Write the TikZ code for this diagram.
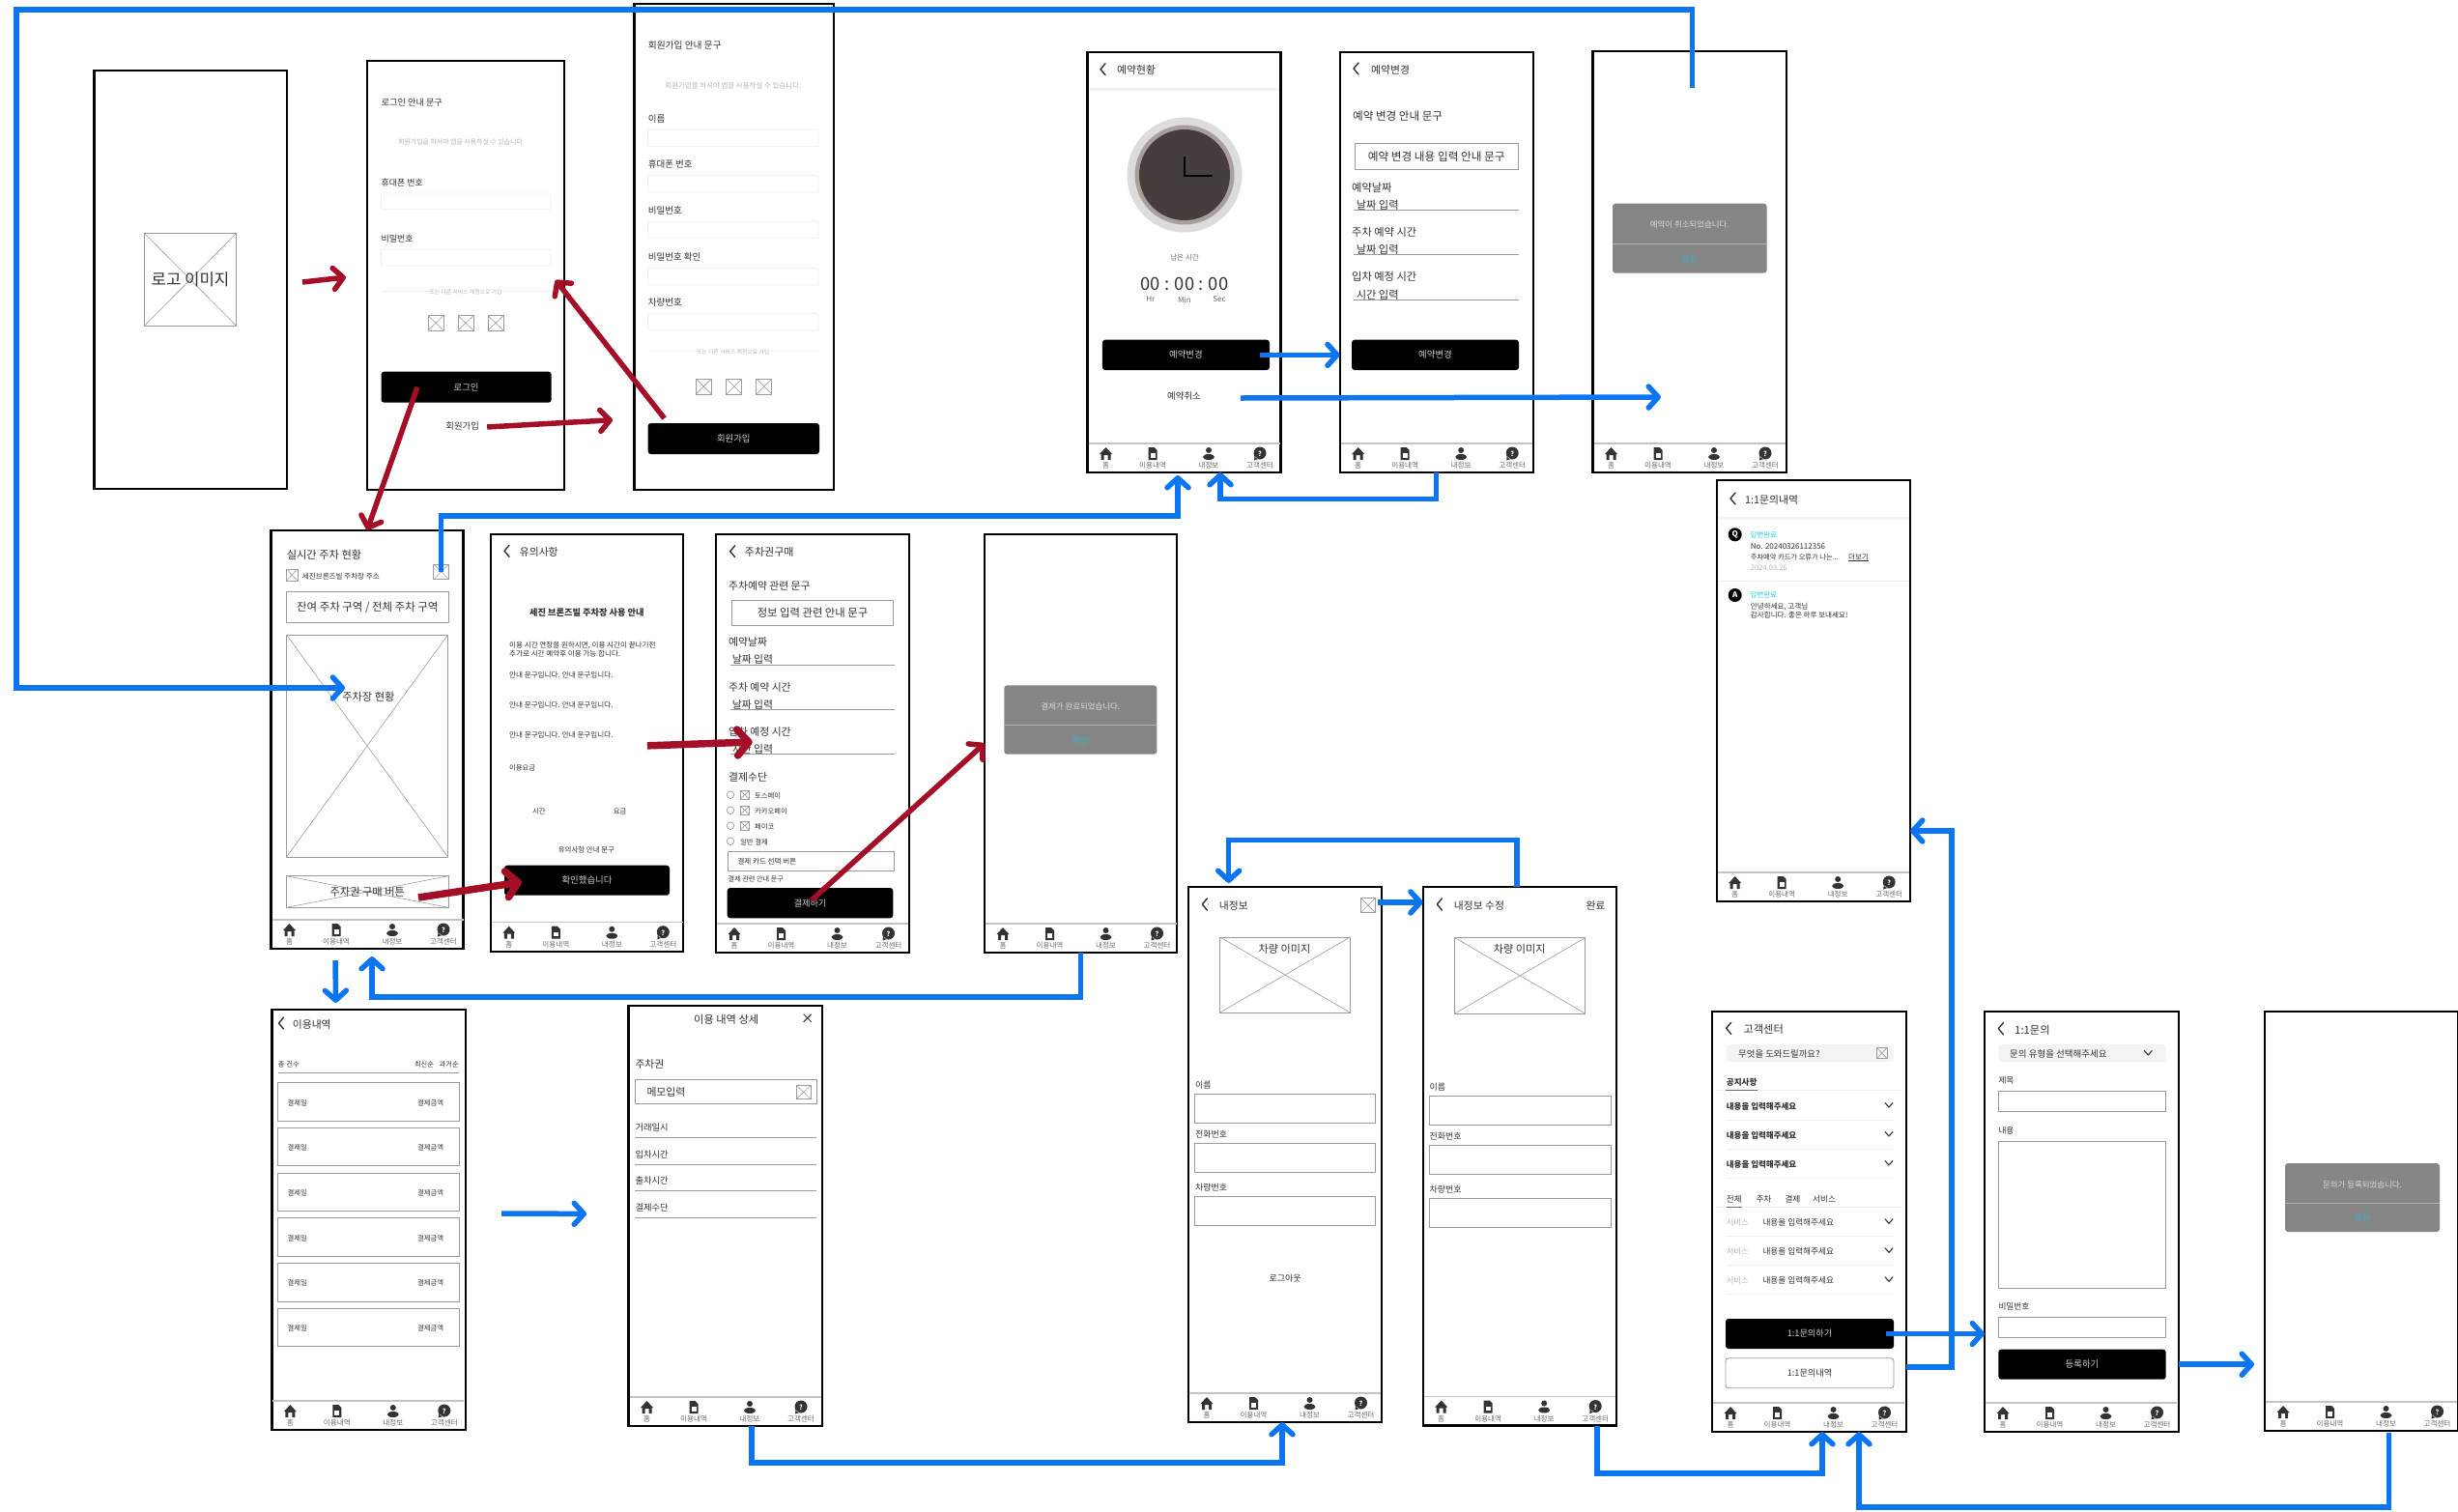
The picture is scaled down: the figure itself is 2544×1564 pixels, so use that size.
\documentclass[tikz,border=0pt]{standalone}
\usepackage{fontspec}
\setmainfont{Noto Sans CJK KR}
\usetikzlibrary{arrows.meta}
\definecolor{arrBlue}{HTML}{0B75F2}
\definecolor{arrRed}{HTML}{A50E27}
\definecolor{inkDark}{HTML}{333333}
\definecolor{inkGrey}{HTML}{6E6E6E}
\definecolor{inkPale}{HTML}{B5B5B5}
\definecolor{phGrey}{HTML}{9C9C9C}
\definecolor{palePill}{HTML}{F4F4F4}
\definecolor{paleLine}{HTML}{EFEFEF}
\definecolor{okTeal}{HTML}{3BB0C9}
\definecolor{clockFace}{HTML}{463D3D}
\definecolor{clockRim}{HTML}{A99F9F}
\definecolor{clockOut}{HTML}{DCDCDC}
\newcounter{labno}
\newcommand{\lab}[4][]{\stepcounter{labno}\node[lab,#1] (lab\thelabno) at ({#2},{#3}) {#4};}
\newcommand{\rbox}[7][]{\node[#1,inner sep=0pt,outer sep=0pt,minimum width={((#5)-(#3))*1pt},minimum height={((#6)-(#4))*1pt}] (#2) at ({(#3+#5)/2},{(#4+#6)/2}) {#7};}
\newcommand{\back}[2]{\draw[thin line,line width=1.4pt,draw=inkDark] (#1+5,#2-6) -- (#1,#2) -- (#1+5,#2+6);}
\newcommand{\chev}[2]{\draw[thin line,line width=1.1pt,draw=inkDark] (#1-4,#2-2.5) -- (#1,#2+2) -- (#1+4,#2-2.5);}
\newcommand{\tabbar}[2]{
  \begin{scope}[shift={(#1,#2)}]
    \draw[draw=phGrey!60,line width=1.2pt] (1,-30) -- (199,-30);
    \fill[inkDark] (12.5,-19) -- (19,-26) -- (25.5,-19) -- (24,-19) -- (24,-13) -- (21,-13) -- (21,-18) -- (17,-18) -- (17,-13) -- (14,-13) -- (14,-19) -- cycle;
    \fill[inkDark] (63,-26) -- (69,-26) -- (72,-23) -- (72,-13) -- (63,-13) -- cycle;
    \fill[white] (65,-20) rectangle (70,-15.5);
    \fill[inkDark] (125.5,-23) circle (3) (125.5,-16) ellipse (6 and 3);
    \fill[inkDark] (178.5,-20) circle (6.5) (173,-17) -- (172.5,-12.5) -- (177,-14) -- cycle;
    \lab[anchor=center,text=white,font=\fontsize{7}{7}\selectfont\bfseries]{178.5}{-20}{?}
    \foreach \xx/\txt in {19/홈,67.5/이용내역,125.5/내정보,178.5/고객센터}{
      \lab[fs=7,anchor=center,text=inkGrey]{\xx}{-8}{\txt}
    }
  \end{scope}}
\newcommand{\popup}[7]{
  \rbox[fill=gray!95,rounded corners=3pt]{#1}{#2}{#3}{#4}{#5}{}
  \draw[draw=gray!60,line width=1pt] (#2,#6) -- (#4,#6);
  \lab[fs=7.8,anchor=center,text=white!85!black]{(#2+#4)/2}{(#3+#6)/2}{#7}
  \lab[fs=8.7,anchor=center,text=okTeal]{(#2+#4)/2}{(#6+#5)/2}{확인}}
\begin{document}
\begin{tikzpicture}[
  x=1pt, y=-1pt,
  fs/.code={\pgfmathsetmacro\fsz{#1*1.08}\tikzset{font=\fontsize{\fsz}{\fsz}\selectfont}},
  lab/.style={anchor=west, inner sep=0pt, text=inkDark, fs=8.3, yshift=-1pt},
  hint/.style={anchor=center, text=inkPale, fs=6.4},
  small/.style={fs=7, text=inkGrey},
  screen/.style={draw=black, fill=white, line width=2.4pt},
  btn/.style={fill=black, rounded corners=3pt, text=white!80!black, fs=8.7},
  soft/.style={draw=paleLine, line width=.8pt, rounded corners=2pt},
  field/.style={draw=phGrey, line width=.9pt, text=inkDark},
  pill/.style={fill=palePill, rounded corners=3pt},
  xph/.style={draw=phGrey, line width=.8pt, text=inkDark,
    path picture={\draw[draw=phGrey, line width=.6pt]
      (path picture bounding box.north west) -- (path picture bounding box.south east)
      (path picture bounding box.south west) -- (path picture bounding box.north east);}},
  thin line/.style={line cap=round, line join=round},
  rule/.style={draw=phGrey, line width=1pt},
  bluearr/.style={draw=arrBlue, line width=5.5pt, -{Straight Barb[length=10pt,width=22pt,round]}},
  redarr/.style={draw=arrRed, line width=5.5pt, -{Straight Barb[length=10pt,width=22pt,round]}},
  redfat/.style={draw=arrRed, line width=7.5pt, -{Straight Barb[length=12pt,width=27pt,round]}}
  ]
  \useasboundingbox (0,0) rectangle (2544,1564);
  % splash
  \rbox[screen]{sSplash}{97.6}{73}{297}{506}{}
  \rbox[xph,fs=15.5]{logoImg}{149.3}{241.3}{244.7}{337.3}{로고 이미지}
  % login
  \rbox[screen]{sLogin}{380}{63}{584}{507}{}
  \lab[fs=8.5]{394.5}{105}{로그인 안내 문구}
  \lab[hint]{477.5}{146}{회원가입을 하셔야 앱을 사용하실 수 있습니다.}
  \lab{394.5}{188}{휴대폰 번호}
  \rbox[soft]{loginPhone}{394.5}{200}{570}{216.7}{}
  \lab{394.5}{246}{비밀번호}
  \rbox[soft]{loginPass}{394.5}{258}{570}{275}{}
  \draw[draw=paleLine,line width=.7pt] (394.5,301) -- (570,301);
  \lab[hint,fs=5.4,fill=white]{482}{301}{또는 다른 서비스 계정으로 가입}
  \foreach \i/\xx in {1/451,2/482,3/513}{
    \rbox[xph]{loginSns\i}{\xx-8}{326.7}{\xx+8}{342}{}
  }
  \rbox[btn]{btnLogin}{394.5}{384.7}{570.7}{416.7}{로그인}
  \node[lab,anchor=center,fs=8.7] (tJoinLink) at (478.7,440) {회원가입};
  % sign up
  \rbox[screen]{sSignup}{656.6}{4}{863}{507}{}
  \lab[fs=9]{670.6}{46}{회원가입 안내 문구}
  \lab[hint,fs=6.9]{758.7}{88}{회원가입을 하셔야 앱을 사용하실 수 있습니다.}
  \foreach \i/\yy/\txt in {1/121.7/이름,2/169/휴대폰 번호,3/216.7/비밀번호,4/265/비밀번호 확인,5/312/차량번호}{
    \lab[fs=8.8]{670.6}{\yy}{\txt}
    \rbox[soft]{signField\i}{670.6}{\yy+12.5}{847}{\yy+30}{}
  }
  \draw[draw=paleLine,line width=.7pt] (670.6,363) -- (847,363);
  \lab[hint,fs=5.4,fill=white]{758.7}{363}{또는 다른 서비스 계정으로 가입}
  \foreach \i/\xx in {1/728.4,2/759.8,3/790.7}{
    \rbox[xph]{signSns\i}{\xx-8}{392}{\xx+8}{408}{}
  }
  \rbox[btn]{btnJoin}{670.6}{438}{848}{470}{회원가입}
  % reservation status
  \rbox[screen]{sResv}{1125.5}{54}{1325.5}{489}{}
  \back{1139}{71.7}
  \lab[fs=10]{1156}{71.7}{예약현황}
  \draw[draw=palePill,line width=3pt] (1127,92.7) -- (1324,92.7);
  \fill[clockOut] (1226,181) circle (59.5);
  \fill[clockRim] (1226,181) circle (51.5);
  \fill[clockFace] (1226,181) circle (47);
  \draw[draw=black,line width=2pt] (1226,162) -- (1226,181.7) -- (1254.6,181.7);
  \lab[small,anchor=center]{1226}{265.7}{남은 시간}
  \lab[anchor=center,fs=17]{1226}{293}{00 : 00 : 00}
  \foreach \xx/\txt in {1190.8/Hr,1226/Min,1262/Sec}{
    \lab[small,fs=7.5,anchor=center]{\xx}{309}{\txt}
  }
  \rbox[btn]{btnResv}{1140.8}{351.7}{1314}{383}{예약변경}
  \node[lab,anchor=center,fs=8.7] (tCancelLink) at (1225.5,409) {예약취소};
  \tabbar{1125.5}{489}
  % reservation change
  \rbox[screen]{sChange}{1386.7}{54}{1586.7}{489}{}
  \back{1401}{71}
  \lab[fs=10]{1419}{71.7}{예약변경}
  \lab[fs=10.7]{1400}{119.3}{예약 변경 안내 문구}
  \rbox[field,fs=10.8]{changeNote}{1402.5}{148.7}{1571}{175}{예약 변경 내용 입력 안내 문구}
  \foreach \yy/\txt/\vv in {193/예약날짜/날짜 입력,239/주차 예약 시간/날짜 입력,285.7/입차 예정 시간/시간 입력}{
    \lab[fs=10.4]{1399}{\yy}{\txt}
    \lab[fs=10.4]{1403.6}{\yy+18.3}{\vv}
    \draw[rule] (1401,\yy+24.7) -- (1572,\yy+24.7);
  }
  \rbox[btn]{btnChange}{1399}{351.7}{1572}{383}{예약변경}
  \tabbar{1386.7}{489}
  % reservation cancelled
  \rbox[screen]{sCancel}{1648.5}{52.7}{1849}{489}{}
  \popup{cancelPop}{1669}{210.7}{1828.6}{282.7}{252.7}{예약이 취소되었습니다.}
  \tabbar{1648.5}{489}
  % inquiry history
  \rbox[screen]{sFaq}{1776.7}{497}{1977}{933}{}
  \back{1791}{516}
  \lab[fs=10]{1806}{516}{1:1문의내역}
  \draw[draw=palePill,line width=3pt] (1778,536.7) -- (1976,536.7);
  \node[circle,fill=black,text=white,inner sep=0pt,minimum size=14pt,font=\fontsize{8}{8}\selectfont\bfseries] (qMark) at (1795.7,553.3) {Q};
  \node[circle,fill=black,text=white,inner sep=0pt,minimum size=14pt,font=\fontsize{8}{8}\selectfont\bfseries] (aMark) at (1795.7,616) {A};
  \lab[fs=6.8,text=okTeal!60!cyan]{1811.7}{553}{답변완료}
  \lab[fs=7.4]{1811.7}{564.7}{No. 20240326112356}
  \lab[fs=6.7]{1811.7}{576}{주차예약 카드가 오류가 나는...}
  \node[lab,fs=7,anchor=west] (moreLink) at (1913,576) {더보기};
  \draw[draw=inkDark,line width=.4pt] (moreLink.south west) -- (moreLink.south east);
  \lab[fs=7,text=inkPale]{1811.7}{587}{2024.03.26}
  \draw[draw=paleLine,line width=1pt] (1778,601) -- (1976,601);
  \lab[fs=6.8,text=okTeal!60!cyan]{1811.7}{615}{답변완료}
  \lab[fs=7]{1811.7}{626.7}{안녕하세요, 고객님}
  \lab[fs=7]{1811.7}{636}{감사합니다. 좋은 하루 보내세요!}
  \tabbar{1776.7}{933}
  % live parking
  \rbox[screen]{sLive}{280.5}{548.7}{479.6}{982}{}
  \lab[fs=10.4]{296.6}{573.3}{실시간 주차 현황}
  \rbox[xph]{addrIcon}{296.6}{589}{308}{601}{}
  \lab[fs=7]{312.7}{595.7}{세진브론즈빌 주차장 주소}
  \rbox[xph]{liveIcon}{448.8}{584}{464.5}{599.7}{}
  \rbox[field,fs=10.6]{liveCount}{296.6}{612.7}{464}{644.7}{잔여 주차 구역 / 전체 주차 구역}
  \rbox[xph]{mapLot}{296.6}{657}{463.6}{887}{}
  \lab[anchor=center,fs=10.4]{381.4}{720.7}{주차장 현황}
  \rbox[xph,fs=10.4]{btnPass}{296.6}{906.7}{464}{939.3}{주차권 구매 버튼}
  \tabbar{280.5}{982}
  % notice
  \rbox[screen]{sNotice}{507.8}{553}{707}{984.7}{}
  \back{522}{570.3}
  \lab[fs=10]{537.7}{570.3}{유의사항}
  \lab[anchor=center,font=\fontsize{9.2}{9.2}\selectfont\bfseries]{607.3}{633.3}{세진 브론즈빌 주차장 사용 안내}
  \lab[fs=7]{527}{667}{이용 시간 연장을 원하시면, 이용 시간이 끝나기전}
  \lab[fs=7]{527}{676}{추가로 시간 예약후 이용 가능 합니다.}
  \foreach \yy in {698,729,760}{
    \lab[fs=7]{527}{\yy}{안내 문구입니다. 안내 문구입니다.}
  }
  \lab[fs=6.8]{527}{794}{이용요금}
  \lab[fs=6.8,anchor=center]{557.8}{838.7}{시간}
  \lab[fs=6.8,anchor=center]{641.7}{838.7}{요금}
  \lab[fs=6.9,anchor=center]{606.9}{878.7}{유의사항 안내 문구}
  \rbox[btn]{btnAgree}{522}{895.7}{693}{926.7}{확인했습니다}
  \tabbar{507.8}{984.7}
  % ticket purchase
  \rbox[screen]{sBuy}{741}{553}{941}{986}{}
  \back{755.7}{570.7}
  \lab[fs=10.2]{770.7}{570.3}{주차권구매}
  \lab[fs=10]{754}{605.3}{주차예약 관련 문구}
  \rbox[field,fs=10.5]{buyNote}{757.3}{621}{924.7}{647.3}{정보 입력 관련 안내 문구}
  \foreach \yy/\txt/\vv in {663.7/예약날짜/날짜 입력,710/주차 예약 시간/날짜 입력,756.3/입차 예정 시간/시간 입력}{
    \lab[fs=10]{754}{\yy}{\txt}
    \lab[fs=10]{757.7}{\yy+18}{\vv}
    \draw[rule] (755.7,\yy+24.5) -- (925.7,\yy+24.5);
  }
  \lab[fs=10]{754}{803.7}{결제수단}
  \foreach \i/\yy/\txt in {1/822.7/토스페이,2/838.7/카카오페이,3/854.7/페이코}{
    \draw[draw=phGrey,line width=.7pt] (756,\yy) circle (3.8);
    \rbox[xph]{payIcon\i}{766}{\yy-4.5}{775.7}{\yy+4.5}{}
    \lab[fs=6.8]{781}{\yy}{\txt}
  }
  \draw[draw=phGrey,line width=.7pt] (756,870.7) circle (3.8);
  \lab[fs=6.8]{766}{871}{일반 결제}
  \rbox[field]{payCard}{753.3}{881.7}{925.7}{901}{}
  \lab[fs=7]{763.3}{891}{결제 카드 선택 버튼}
  \lab[fs=6.6]{753.5}{909}{결제 관련 안내 문구}
  \rbox[btn,fs=8.5]{btnPay}{752.7}{919}{924.3}{950.3}{결제하기}
  \tabbar{741}{986}
  % payment done
  \rbox[screen]{sPaid}{1019}{553}{1218}{986}{}
  \popup{paidPop}{1039.3}{709.3}{1197.3}{780.7}{750.7}{결제가 완료되었습니다.}
  \tabbar{1019}{986}
  % usage history
  \rbox[screen]{sHist}{281.3}{1045}{481.7}{1480}{}
  \back{288.5}{1059}
  \lab[fs=10]{302.7}{1059}{이용내역}
  \lab[fs=6.8]{287.7}{1100.7}{총 건수}
  \lab[fs=6.7]{428.8}{1100.7}{최신순}
  \lab[fs=6.7]{454.5}{1100.7}{과거순}
  \draw[rule] (287.7,1110.3) -- (475.4,1110.3);
  \foreach \i in {0,...,5}{
    \rbox[field]{histCard\i}{287.7}{1120.7+46.7*\i}{475.4}{1160.2+46.7*\i}{}
    \lab[fs=6.8]{297.5}{1140.4+46.7*\i}{결제일}
    \lab[fs=6.8]{432}{1140.4+46.7*\i}{결제금액}
  }
  \tabbar{281.3}{1480}
  % usage detail
  \rbox[screen]{sDetail}{650.5}{1040.7}{851}{1476}{}
  \lab[anchor=center,fs=10.4]{751.7}{1054.3}{이용 내역 상세}
  \draw[draw=inkDark,line width=1pt] (831.7,1049.7) -- (839.7,1057.7) (839.7,1049.7) -- (831.7,1057.7);
  \lab[fs=10]{657.3}{1100.3}{주차권}
  \rbox[field]{detailMemo}{657.3}{1117.7}{845}{1142}{}
  \lab[fs=10]{669.3}{1129.3}{메모입력}
  \rbox[xph]{memoIcon}{824.3}{1123.3}{839.3}{1137.7}{}
  \foreach \yy/\txt in {1165.7/거래일시,1193.7/입차시간,1221.3/출차시간,1249.3/결제수단}{
    \lab[fs=8.6]{657.3}{\yy}{\txt}
    \draw[rule] (657.3,\yy+11.5) -- (845,\yy+11.5);
  }
  \tabbar{650.5}{1476}
  % my info
  \rbox[screen]{sMine}{1230}{918}{1430}{1472}{}
  \back{1244.3}{936}
  \lab[fs=10]{1261.7}{936.5}{내정보}
  \rbox[xph]{mineIcon}{1408.3}{929.4}{1423.3}{944.5}{}
  \rbox[xph]{mineCar}{1262.7}{970}{1397.3}{1048}{}
  \lab[anchor=center,fs=10.3]{1329.5}{981}{차량 이미지}
  \foreach \i/\yy/\txt in {1/1122.4/이름,2/1173.5/전화번호,3/1228.6/차량번호}{
    \lab{1237}{\yy}{\txt}
    \rbox[field]{mineField\i}{1236.7}{\yy+10}{1423.5}{\yy+40}{}
  }
  \lab[anchor=center]{1330}{1322}{로그아웃}
  \tabbar{1230}{1472}
  % my info edit
  \rbox[screen]{sEdit}{1472.7}{918}{1673}{1475.5}{}
  \back{1487.3}{936}
  \lab[fs=10]{1504.7}{936.5}{내정보 수정}
  \lab[fs=10]{1641.3}{936.5}{완료}
  \rbox[xph]{editCar}{1505.7}{970.6}{1640.7}{1049}{}
  \lab[anchor=center,fs=10.3]{1572.7}{981.6}{차량 이미지}
  \foreach \i/\yy/\txt in {1/1124/이름,2/1175.5/전화번호,3/1230.6/차량번호}{
    \lab{1479.5}{\yy}{\txt}
    \rbox[field]{editField\i}{1479}{\yy+10}{1667.5}{\yy+40}{}
  }
  \tabbar{1472.7}{1475.5}
  % customer center
  \rbox[screen]{sCenter}{1772}{1046.7}{1973}{1482}{}
  \back{1786.7}{1064.3}
  \lab[fs=10.4]{1804.3}{1064.3}{고객센터}
  \rbox[pill]{centerSearch}{1786.7}{1081}{1960}{1099}{}
  \lab[fs=8.7]{1799}{1090}{무엇을 도와드릴까요?}
  \rbox[xph]{searchIcon}{1942}{1084.3}{1953.3}{1095.7}{}
  \lab[font=\fontsize{8.6}{8.6}\selectfont\bfseries]{1786.7}{1119.3}{공지사항}
  \draw[draw=paleLine,line width=1pt] (1775,1128.3) -- (1970,1128.3);
  \draw[draw=inkGrey,line width=.8pt] (1786,1128.3) -- (1819.3,1128.3);
  \foreach \yy in {1144,1174,1204}{
    \lab[font=\fontsize{8.5}{8.5}\selectfont\bfseries]{1786.7}{\yy}{내용을 입력해주세요}
    \chev{1955}{\yy}
    \draw[draw=paleLine,line width=.7pt] (1786.7,\yy+15) -- (1960,\yy+15);
  }
  \foreach \xx/\txt in {1786.7/전체,1817.3/주차,1847.3/결제,1876/서비스}{
    \lab[fs=8]{\xx}{1240}{\txt}
  }
  \draw[draw=paleLine,line width=1pt] (1775,1249.3) -- (1970,1249.3);
  \draw[draw=inkGrey,line width=.8pt] (1786.7,1249.3) -- (1803,1249.3);
  \foreach \yy in {1264.3,1294.3,1324.3}{
    \lab[fs=7.6,text=inkPale]{1786.7}{\yy}{서비스}
    \lab[fs=8]{1824.3}{\yy}{내용을 입력해주세요}
    \chev{1955}{\yy}
    \draw[draw=paleLine,line width=.7pt] (1786.7,\yy+15) -- (1960,\yy+15);
  }
  \rbox[btn,fs=8.5]{btnAsk}{1786}{1365}{1960}{1396}{1:1문의하기}
  \rbox[field,rounded corners=3pt,fs=8.5]{btnAskList}{1786}{1405.7}{1960}{1436.7}{1:1문의내역}
  \tabbar{1772}{1482}
  % inquiry form
  \rbox[screen]{sAsk}{2054}{1046.7}{2255}{1482}{}
  \back{2068.3}{1064.7}
  \lab[fs=10.5]{2085}{1065}{1:1문의}
  \rbox[pill]{askType}{2068.3}{1081}{2241.7}{1099}{}
  \lab[fs=8.8]{2080}{1090}{문의 유형을 선택해주세요}
  \chev{2223.3}{1090}
  \lab[fs=8]{2068.3}{1117}{제목}
  \rbox[field]{askTitle}{2068.3}{1129.7}{2241.7}{1150}{}
  \lab[fs=8]{2068.3}{1169}{내용}
  \rbox[field]{askBody}{2068.3}{1181.7}{2241.7}{1333.7}{}
  \lab[fs=8]{2068.3}{1351}{비밀번호}
  \rbox[field]{askPass}{2068.3}{1363.3}{2241.7}{1384.3}{}
  \rbox[btn]{btnSend}{2068.3}{1396.7}{2241.7}{1427.7}{등록하기}
  \tabbar{2054}{1482}
  % inquiry done
  \rbox[screen]{sDone}{2344}{1047}{2544}{1481}{}
  \popup{donePop}{2365}{1204}{2525}{1275}{1245.7}{문의가 등록되었습니다.}
  \tabbar{2344}{1481}
  % red flow
  \draw[redarr] ([xshift=16pt,yshift=-2.5pt]sSplash.east) -- ([xshift=-22pt,yshift=-2pt]sLogin.west);
  \draw[redarr] ([xshift=8pt,yshift=-1pt]tJoinLink.east) -- ([xshift=-36.6pt,yshift=3.3pt]btnJoin.north west);
  \draw[redarr] ([xshift=17pt,yshift=5pt]btnJoin.north west) -- ([xshift=-9pt,yshift=-5pt]sLogin.east);
  \draw[redarr] ([xshift=37.5pt]btnLogin.west) -- (sLive.north);
  \draw[redfat] ([xshift=-31pt,yshift=-6pt]btnPass.east) -- ([xshift=18pt,yshift=-1.7pt]btnAgree.west);
  \draw[redfat] ([xshift=-37pt,yshift=-3pt]sNotice.east) -- ([xshift=37.8pt,yshift=1.5pt]sBuy.west);
  \draw[redarr] ([xshift=1.5pt,yshift=3pt]btnPay.center) -- (sPaid.west);
  % blue flow
  \coordinate (loopNW) at (17,10);
  \coordinate (cancelIn) at (1719,411);
  \draw[bluearr] ([xshift=2.75pt,yshift=-38.3pt]sCancel.north) |- (loopNW) |- ([xshift=-23pt,yshift=60pt]mapLot.center);
  \draw[bluearr] ([xshift=-10pt]btnResv.east) -- (btnResv.east -| sChange.west);
  \draw[bluearr] ([xshift=41pt,yshift=-2pt]tCancelLink.east) -- (cancelIn);
  \draw[bluearr] (sChange.south) -- ++(0,27.7) -| ([xshift=37.5pt]sResv.south);
  \draw[bluearr] (liveIcon.center) -- ++(0,-58) -| ([xshift=-6.5pt,yshift=-3pt]sResv.south);
  \draw[bluearr] (sPaid.south) -- ++(0,46) -| ([xshift=5pt,yshift=-8pt]sLive.south);
  \draw[bluearr] ([xshift=-33pt,yshift=-12pt]sLive.south) -- ([xshift=-34pt,yshift=7pt]sHist.north);
  \draw[bluearr] ([xshift=37.5pt,yshift=6.5pt]sHist.east) -- ([xshift=-43.5pt,yshift=2pt]sDetail.west);
  \draw[bluearr] ([xshift=27pt]sDetail.south) -- ++(0,38) -| ([xshift=-3pt]sMine.south);
  \draw[bluearr] ([xshift=3pt,yshift=3pt]mineIcon.east) -- ([yshift=3pt]mineIcon.east -| sEdit.west);
  \draw[bluearr] ([xshift=-2.85pt]sEdit.north) -- ++(0,-48.6) -| ([xshift=-58.3pt,yshift=4pt]sMine.north);
  \draw[bluearr] ([xshift=80pt]sEdit.south) -- ++(0,49.5) -| ([xshift=13.5pt]sCenter.south);
  \draw[bluearr] ([xshift=28.7pt,yshift=-2pt]sDone.south) -- ++(0,77) -| ([xshift=51.5pt]sCenter.south);
  \draw[bluearr] ([xshift=-8pt]btnAsk.east) -- (btnAsk.east -| sAsk.west);
  \draw[bluearr] ([xshift=13pt,yshift=6pt]btnAskList.east) -- ++(47,0) |- ([yshift=-145pt]sFaq.east);
  \draw[bluearr] ([xshift=13.3pt]btnSend.east) -- ([xshift=-11pt]btnSend.east -| sDone.west);
\end{tikzpicture}
\end{document}
